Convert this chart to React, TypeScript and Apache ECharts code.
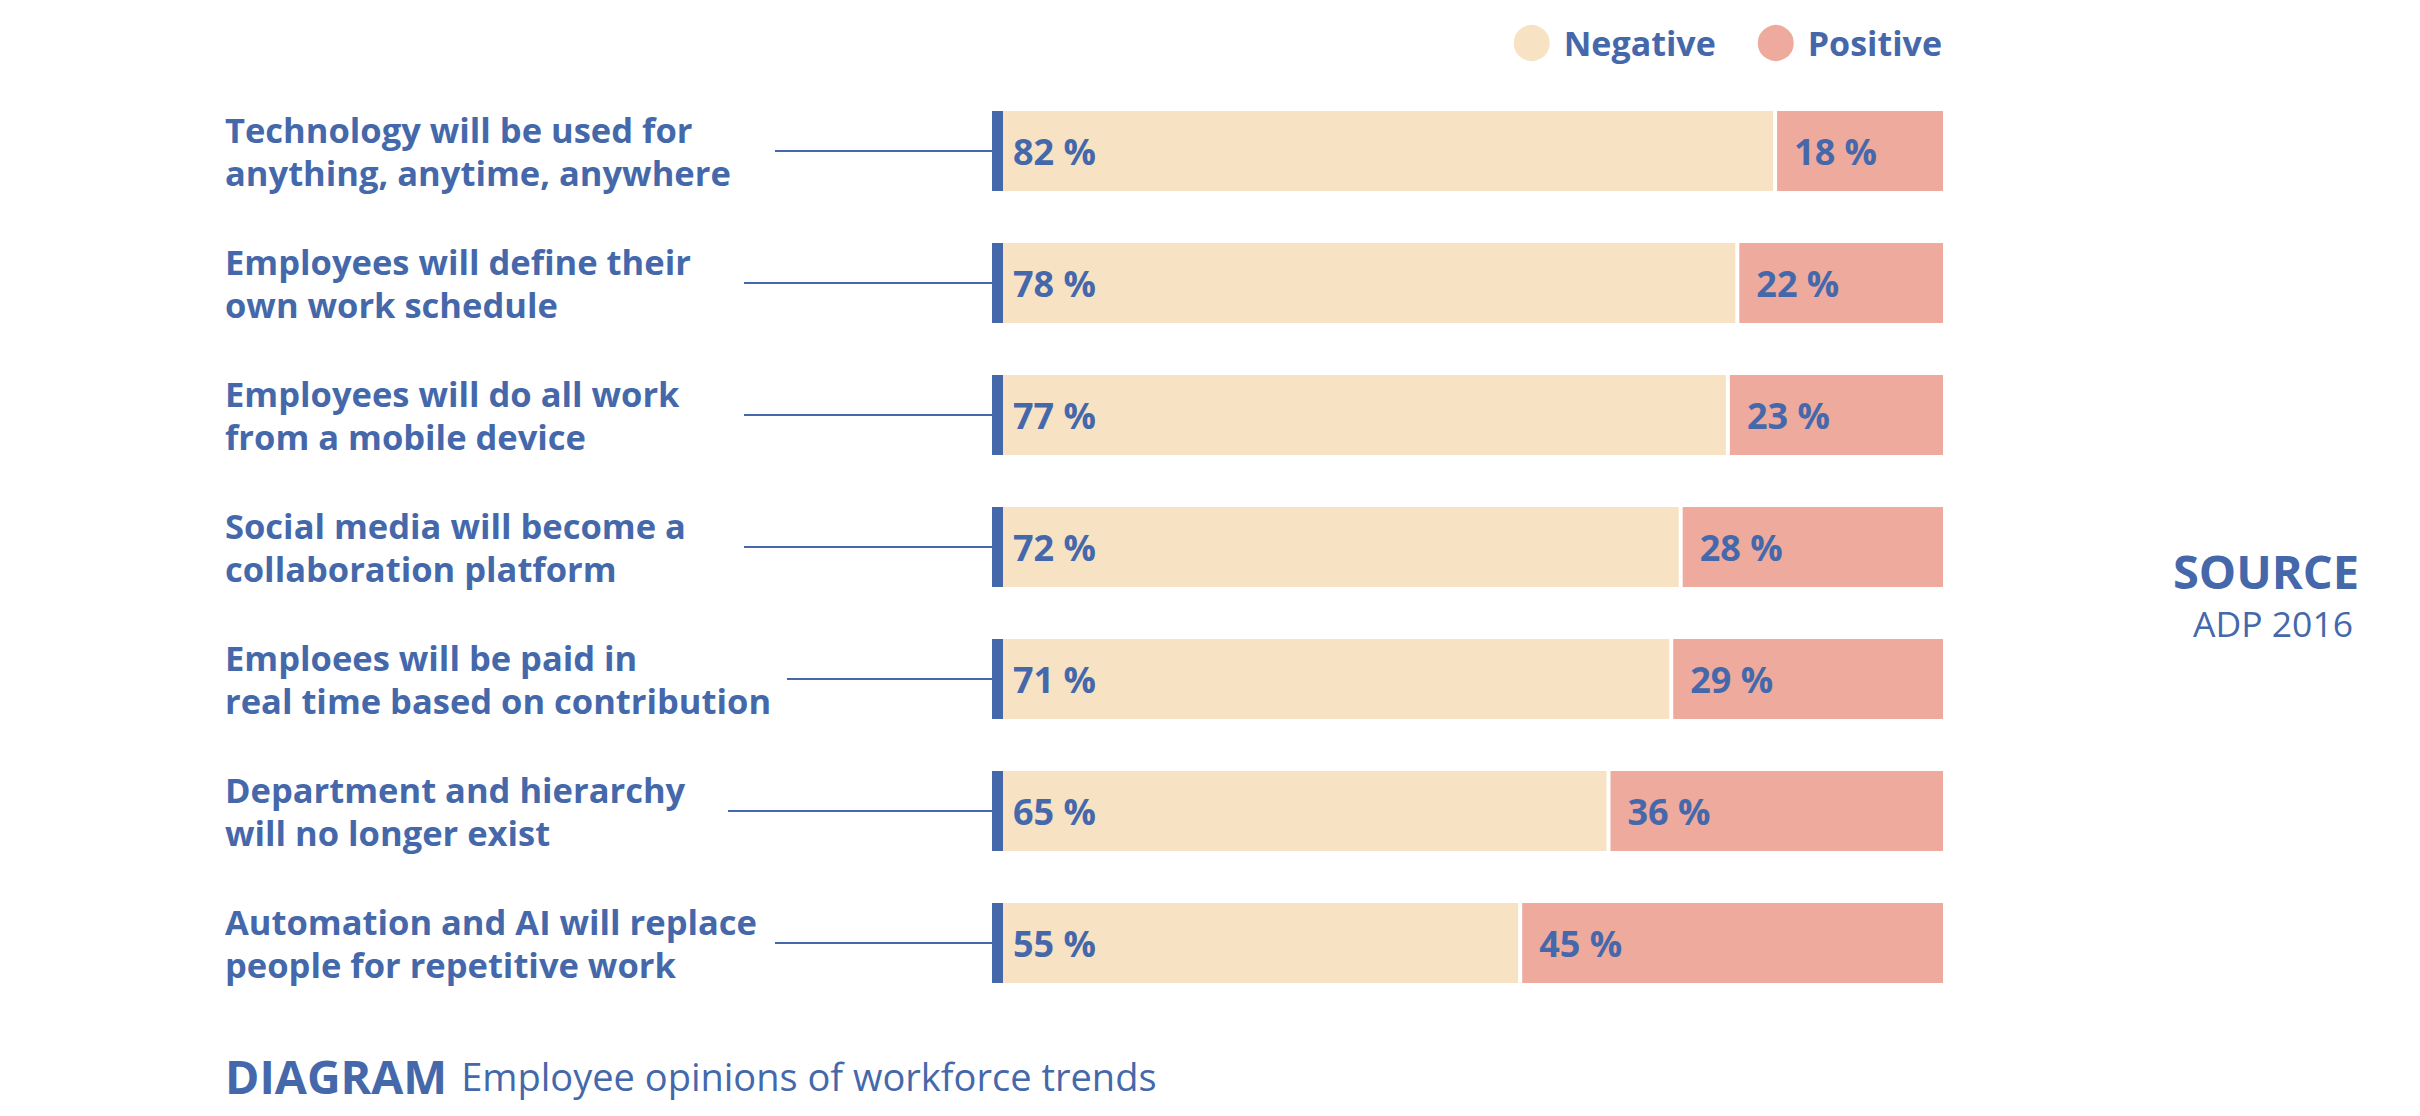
import React, { useEffect, useRef } from "react";
import * as echarts from "echarts";

const categories = [
  "Technology will be used for\nanything, anytime, anywhere",
  "Employees will define their\nown work schedule",
  "Employees will do all work\nfrom a mobile device",
  "Social media will become a\ncollaboration platform",
  "Emploees will be paid in\nreal time based on contribution",
  "Department and hierarchy\nwill no longer exist",
  "Automation and AI will replace\npeople for repetitive work",
];
const negative = [82, 78, 77, 72, 71, 65, 55];
const positive = [18, 22, 23, 28, 29, 36, 45];
const seriesNames = ["Negative", "Positive"];

// layout (pixels) for the connector lines, not data
const lineStartX = [775, 744, 744, 744, 787, 728, 775];

const BLUE = "#4568AB";
const NEG_COLOR = "#F7E2C4";
const POS_COLOR = "#EDAA9D";
const FONT = "'Open Sans', sans-serif";

export default function App() {
  const ref = useRef<HTMLDivElement>(null);
  useEffect(() => {
    if (!ref.current) return;
    const chart = echarts.init(ref.current, null, { renderer: "svg" });
    const totals = negative.map((v, i) => v + positive[i]);
    const negShare = negative.map((v, i) => (v / totals[i]) * 100);
    const posShare = positive.map((v, i) => (v / totals[i]) * 100);
    const BAR_H = 80;
    const BORDER = 2;
    const MARK_W = 11;
    const labelStyle = {
      show: true,
      position: "insideLeft",
      color: BLUE,
      fontFamily: FONT,
      fontWeight: "bold",
      fontSize: 36,
    };
    chart.setOption({
      animation: false,
      legend: {
        data: seriesNames,
        right: 478,
        top: 23,
        padding: 0,
        icon: "circle",
        itemWidth: 38,
        itemHeight: 38,
        itemGap: 40,
        selectedMode: false,
        textStyle: {
          color: BLUE,
          fontFamily: FONT,
          fontWeight: "bold",
          fontSize: 34,
          padding: [0, 0, 0, 8],
        },
      },
      grid: { left: 1001, right: 475, top: 85, bottom: 107 },
      xAxis: { type: "value", min: 0, max: 100, show: false },
      yAxis: {
        type: "category",
        data: categories,
        inverse: true,
        axisLine: { show: false },
        axisTick: { show: false },
        splitLine: { show: false },
        axisLabel: {
          align: "left",
          margin: 776,
          color: BLUE,
          fontFamily: FONT,
          fontWeight: "bold",
          fontSize: 34.5,
          lineHeight: 43,
          padding: [0, 0, 9, 0],
        },
      },
      series: [
        {
          name: seriesNames[0],
          type: "bar",
          stack: "total",
          barWidth: BAR_H + 2 * BORDER,
          data: negShare,
          itemStyle: { color: NEG_COLOR, borderColor: "#ffffff", borderWidth: BORDER },
          label: {
            ...labelStyle,
            distance: 12,
            formatter: (p: any) => `${negative[p.dataIndex]} %`,
          },
        },
        {
          name: seriesNames[1],
          type: "bar",
          stack: "total",
          barWidth: BAR_H + 2 * BORDER,
          data: posShare,
          itemStyle: { color: POS_COLOR, borderColor: "#ffffff", borderWidth: BORDER },
          label: {
            ...labelStyle,
            distance: 19,
            formatter: (p: any) => `${positive[p.dataIndex]} %`,
          },
        },
        {
          type: "custom",
          z: 5,
          silent: true,
          data: categories.map((_, i) => [0, i]),
          encode: { x: 0, y: 1 },
          renderItem: (params: any, api: any) => {
            const idx = api.value(1);
            const p = api.coord([0, idx]);
            const x0 = p[0] + BORDER - MARK_W;
            return {
              type: "group",
              children: [
                {
                  type: "line",
                  shape: { x1: lineStartX[idx], y1: p[1], x2: x0, y2: p[1] },
                  style: { stroke: BLUE, lineWidth: 2 },
                },
                {
                  type: "rect",
                  shape: { x: x0, y: p[1] - BAR_H / 2, width: MARK_W, height: BAR_H },
                  style: { fill: BLUE },
                },
              ],
            };
          },
        },
      ],
      graphic: [
        {
          type: "text",
          x: 2266,
          y: 571,
          style: {
            text: "SOURCE",
            textAlign: "center",
            textVerticalAlign: "middle",
            fill: BLUE,
            fontFamily: FONT,
            fontWeight: "bold",
            fontSize: 47,
            lineHeight: 47,
          },
        },
        {
          type: "text",
          x: 2273,
          y: 623,
          style: {
            text: "ADP 2016",
            textAlign: "center",
            textVerticalAlign: "middle",
            fill: BLUE,
            fontFamily: FONT,
            fontSize: 35.5,
            lineHeight: 36,
          },
        },
        {
          type: "text",
          left: 225,
          top: 1052,
          style: {
            text: "{a|DIAGRAM}{b|Employee opinions of workforce trends}",
            rich: {
              a: { fill: BLUE, fontFamily: FONT, fontWeight: "bold", fontSize: 46.5, lineHeight: 52 },
              b: { fill: BLUE, fontFamily: FONT, fontSize: 38, lineHeight: 52, padding: [0, 0, 0, 14] },
            },
          },
        },
      ],
    });
    return () => chart.dispose();
  }, []);
  return (
    <div
      ref={ref}
      style={{ position: "fixed", left: 0, top: 0, width: 2420, height: 1116, background: "#ffffff" }}
    />
  );
}
